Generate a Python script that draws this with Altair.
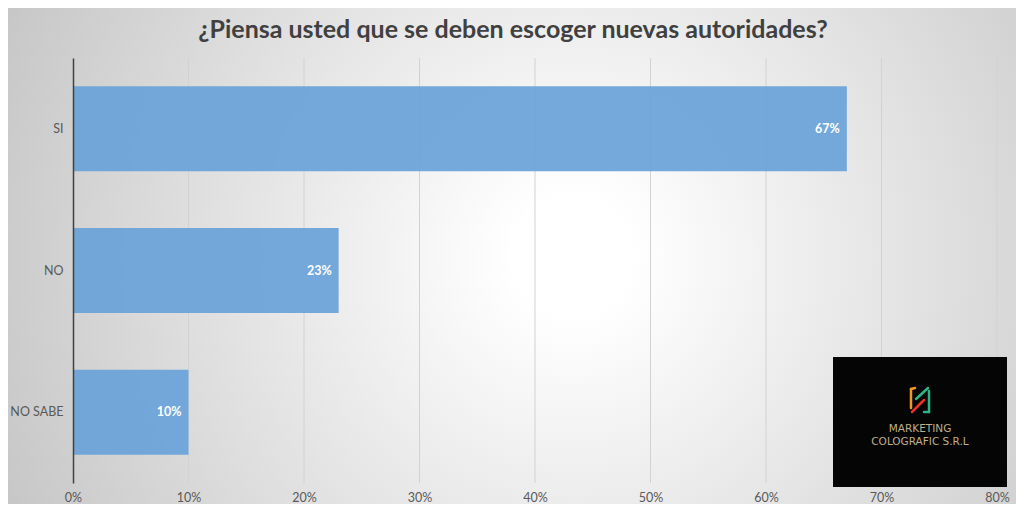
import altair as alt
import pandas as pd

categories = ["SI", "NO", "NO SABE"]
values = [0.67, 0.23, 0.10]
x_ticks = [0, 0.1, 0.2, 0.3, 0.4, 0.5, 0.6, 0.7, 0.8]
title_text = "¿Piensa usted que se deben escoger nuevas autoridades?"
logo_lines = ["MARKETING", "COLOGRAFIC S.R.L"]

df = pd.DataFrame({"cat": categories, "val": values})
ticks_df = pd.DataFrame({"val": x_ticks})

W, H = 924, 425
PL, PT, PR, PB = 65, 50, 19, 21

one = alt.Data(values=[{}])

bg = alt.Chart(one).mark_rect(
    fill=alt.Gradient(
        gradient="radial",
        stops=[alt.GradientStop(offset=0, color="#ffffff"),
               alt.GradientStop(offset=0.08, color="#ffffff"),
               alt.GradientStop(offset=1, color="#bcbcbc")],
        x1=0.56, y1=0.5, x2=0.56, y2=0.5, r1=0, r2=0.72,
    ),
    clip=False,
).encode(x=alt.value(-PL), x2=alt.value(W + PR), y=alt.value(-PT), y2=alt.value(H + PB))

xscale = alt.Scale(domain=[0, 0.8], nice=False)
xaxis = alt.Axis(title=None, values=x_ticks, format=".0%", ticks=False, domain=False,
                 labelFontSize=12.5, labelColor="#595959", labelFont="Lato",
                 labelPadding=8, labelFlush=False, grid=False, zindex=1)

grid = alt.Chart(ticks_df).mark_rule(color="#d2d2d2", strokeWidth=1).encode(
    x=alt.X("val:Q", scale=xscale, axis=xaxis), y=alt.value(0), y2=alt.value(H))

base = alt.Chart(df)

ycat = alt.Y("cat:N", sort=categories,
             scale=alt.Scale(paddingInner=0.4, paddingOuter=0.2),
             axis=alt.Axis(title=None, ticks=False, labelPadding=10, labelFontSize=12.5,
                           labelColor="#595959", labelFont="Lato", zindex=1,
                           domainColor="#404040", domainWidth=1.5, grid=False))
xval = alt.X("val:Q", scale=xscale, axis=xaxis)

bars = base.mark_bar(color="#6AA2D8", opacity=0.93).encode(x=xval, y=ycat)

labels = base.mark_text(align="right", dx=-7, color="white", fontWeight="bold",
                        fontSize=12.5, font="Lato").encode(
    x="val:Q", y=alt.Y("cat:N", sort=categories), text=alt.Text("val:Q", format=".0%"))

title = alt.Chart(one).mark_text(text=title_text, fontSize=25, font="Lato", fontWeight="bold",
                                 color="#404040", align="center", baseline="middle").encode(
    x=alt.value(440), y=alt.value(-28))

# logo box (decoration)
logo_box = alt.Chart(one).mark_rect(color="#050505", clip=False).encode(
    x=alt.value(760), x2=alt.value(934), y=alt.value(299), y2=alt.value(429))
logo_t1 = alt.Chart(one).mark_text(text=logo_lines[0], color="#bfae8e", fontSize=10.5,
                                   font="DejaVu Sans", align="center", baseline="middle").encode(
    x=alt.value(847), y=alt.value(371))
logo_t2 = alt.Chart(one).mark_text(text=logo_lines[1], color="#bfae8e", fontSize=10.5,
                                   font="DejaVu Sans", align="center", baseline="middle").encode(
    x=alt.value(847), y=alt.value(384))

def seg(x1, y1, x2, y2, c):
    return alt.Chart(one).mark_rule(color=c, strokeWidth=2.5, strokeCap="round").encode(
        x=alt.value(x1), y=alt.value(y1), x2=alt.value(x2), y2=alt.value(y2))

icon = [
    seg(838, 331, 838, 350, "#f39a1e"),
    seg(838, 331, 842, 330, "#f39a1e"),
    seg(839, 354, 851, 342, "#e8322b"),
    seg(843, 341, 855, 330, "#2bb58a"),
    seg(856, 333, 856, 354, "#2bb58a"),
    seg(851, 354, 856, 354, "#2bb58a"),
]

chart = alt.layer(bg, grid, bars, labels, title, logo_box, logo_t1, logo_t2, *icon).properties(
    width=W, height=H,
    padding={"left": PL, "top": PT, "right": PR, "bottom": PB},
    autosize=alt.AutoSizeParams(type="none"),
).configure_view(stroke=None).configure(background="#c8c8c8")

chart.save("out.html", embed_options={"renderer": "svg", "actions": False})
